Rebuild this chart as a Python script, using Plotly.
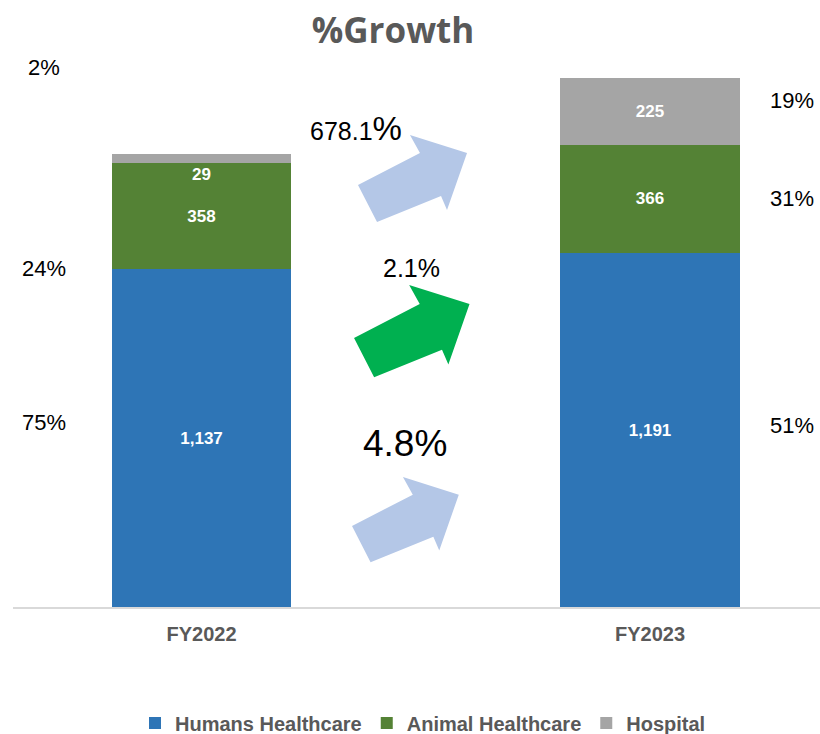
import plotly.graph_objects as go

# data
years = ['FY2022', 'FY2023']
humans = [1137, 1191]
animal = [358, 366]
hospital = [29, 225]
share_left = ['2%', '24%', '75%']
share_right = ['19%', '31%', '51%']
growth = ['678.1', '2.1%', '4.8%']

BLUE = '#2E75B6'
GREEN = '#548235'
GREY = '#A5A5A5'
ARROW_BLUE = '#B4C7E7'
ARROW_GREEN = '#00B050'
FONT = 'Liberation Sans, Arial, sans-serif'

W, H = 820, 734
ML, MR, MT, MB = 13, 0, 60, 127
PW, PH = W - ML - MR, H - MT - MB


def px(x):
    # pixel x -> paper x
    return (x - ML) / PW


def py(y):
    # pixel y -> paper y
    return (H - MB - y) / PH


fig = go.Figure()

for name, vals, color in [('Humans Healthcare', humans, BLUE),
                          ('Animal Healthcare', animal, GREEN),
                          ('Hospital', hospital, GREY)]:
    texts = [f'{v:,}' if v > 100 else '' for v in vals]
    fig.add_trace(go.Bar(
        x=years, y=vals, name=name, marker=dict(color=color, line=dict(width=0)),
        width=0.4, text=texts, textposition='inside', insidetextanchor='middle',
        textfont=dict(color='white', size=17, family=FONT, weight='bold'),
        constraintext='none',
    ))

annotations = []
# the tiny hospital slice gets its label just under the top of the stack
for i, v in enumerate(hospital):
    if v <= 100:
        annotations.append(dict(
            x=years[i], y=humans[i] + animal[i], xref='x', yref='y',
            text=f'{v:,}', showarrow=False, yanchor='top', xanchor='center',
            font=dict(color='white', size=17, family=FONT, weight='bold')))


def label(txt, x, y, size):
    return dict(x=px(x), y=py(y), xref='paper', yref='paper', text=txt,
                showarrow=False, xanchor='center', yanchor='middle',
                font=dict(size=size, color='black', family=FONT))


for txt, y in zip(share_left, [68, 268, 422]):
    annotations.append(label(txt, 44, y, 22))
for txt, y in zip(share_right, [100, 199, 425]):
    annotations.append(label(txt, 792, y, 22))

annotations.append(label(growth[0] + "<span style='font-size:33px'>%</span>", 356, 128, 25))
annotations.append(label(growth[1], 411, 268, 25))
annotations.append(label(growth[2], 405, 443, 37))

# block arrows
arrow = [(0, 0), (62, -32), (52, -50), (109, -32), (89, 25), (83, 11), (19, 37)]
shapes = []
for (ax, ay, s, col) in [(358, 185, 1.0, ARROW_BLUE), (354, 338, 1.06, ARROW_GREEN),
                         (352, 526, 0.98, ARROW_BLUE)]:
    pts = [(px(ax + dx * s), py(ay + dy * s)) for dx, dy in arrow]
    path = 'M ' + ' L '.join(f'{a:.4f},{b:.4f}' for a, b in pts) + ' Z'
    shapes.append(dict(type='path', path=path, xref='paper', yref='paper',
                       fillcolor=col, line=dict(width=0), layer='above'))

fig.update_layout(
    width=W, height=H,
    margin=dict(l=ML, r=MR, t=MT, b=MB, autoexpand=False),
    barmode='stack',
    plot_bgcolor='white', paper_bgcolor='white',
    title=dict(text='<b>%Growth</b>', x=393 / W, xanchor='center',
               y=1 - 31 / H, yanchor='middle',
               font=dict(size=35, color='#595959', family='Open Sans, ' + FONT)),
    xaxis=dict(range=[-0.4203, 1.379], showline=True, linecolor='#D9D9D9', linewidth=1.5,
               showgrid=False, ticks='', ticklabelstandoff=8,
               tickfont=dict(size=20, color='#595959', family=FONT, weight='bold')),
    yaxis=dict(range=[0, PH / 0.297], visible=False, showgrid=False),
    legend=dict(orientation='h', x=px(423), xanchor='center', y=py(723), yanchor='middle',
                font=dict(size=20, color='#595959', family=FONT, weight='bold'),
                itemwidth=30, traceorder='normal'),
    annotations=annotations,
    shapes=shapes,
    showlegend=True,
)

# drop the default page margin so the figure sits at the window's corner
fig.write_html('out.html', config={'displayModeBar': False},
               post_script="document.body.style.margin='0';")
